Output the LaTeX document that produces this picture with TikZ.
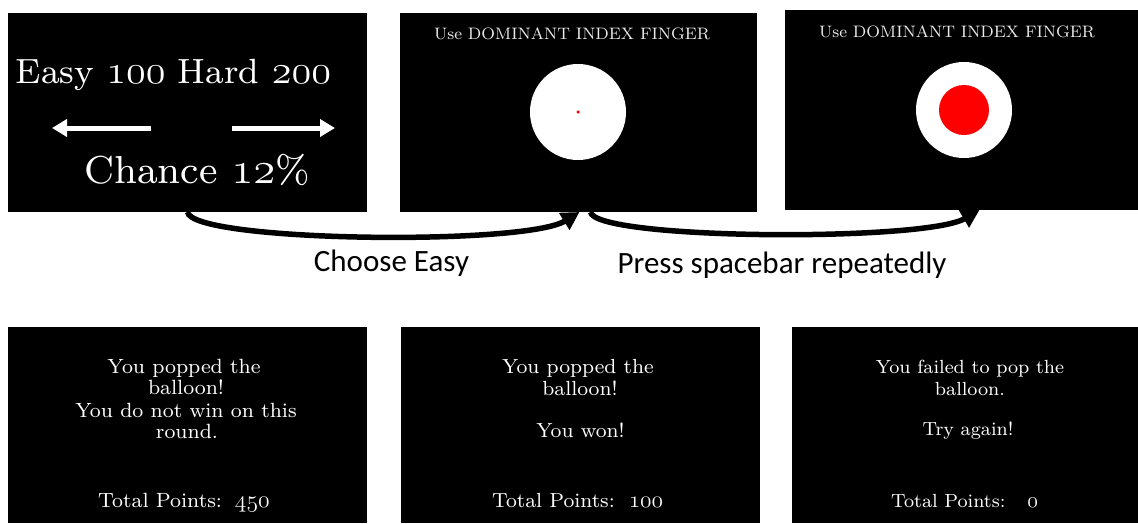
\RequirePackage{fix-cm}
\documentclass[tikz,border=0pt]{standalone}
\usepackage{graphicx}
\usepackage{fontspec}
\newfontfamily\calibri{Carlito}
\newfontfamily\geo{lmroman8-regular.otf}
\usetikzlibrary{arrows.meta}
\newcommand\osn[1]{\scalebox{1.15}{\usefont{OML}{cmm}{m}{it}#1}}
\newcommand\fs[1]{\fontsize{#1}{#1}\selectfont}
\begin{document}
\begin{tikzpicture}[x=1pt,y=-1pt,
  panel/.style={fill=black, draw=none, inner sep=0pt, outer sep=0pt},
  ptxt/.style={text=white, inner sep=0pt, anchor=base},
  lbl/.style={text=black, inner sep=0pt, anchor=base, font=\calibri\fs{31}},
  flow/.style={line width=5.5pt, black, -{Triangle[length=18pt,width=19pt]}},
  wharrow/.style={line width=5pt, white, -{Triangle[length=15pt,width=17pt]}}]
\useasboundingbox (0,0) rectangle (1138,523);
\fill[white] (0,0) rectangle (1138,523);

% top panels
\node[panel, minimum width=359pt, minimum height=199pt] (p1) at (187.5,112.5) {};
\node[panel, minimum width=357pt, minimum height=199pt] (p2) at (578.5,112.5) {};
\node[panel, minimum width=353pt, minimum height=200pt] (p3) at (961.5,110) {};

% panel 1 content
\node[ptxt, font=\geo\fs{35}] (t1a) at (173.5,83) {Easy \osn{100} Hard \osn{200}};
\node[ptxt, font=\geo\fs{39}] (t1b) at (197,183) {Chance \osn{12}\%};
\coordinate (la1) at (151,128);
\coordinate (la2) at (52,128);
\coordinate (ra1) at (232,128);
\coordinate (ra2) at (335,128);
\draw[wharrow] (la1) -- (la2);
\draw[wharrow] (ra1) -- (ra2);

% panel 2 content
\node[ptxt, font=\geo\fs{16.6}, text=white!92!black] (t2) at (572,39) {Use DOMINANT INDEX FINGER};
\node[circle, fill=white, minimum size=96pt, inner sep=0pt] (c2) at (578,112) {};
\node[circle, fill=red, minimum size=3.5pt, inner sep=0pt] (d2) at (c2.center) {};

% panel 3 content
\node[ptxt, font=\geo\fs{16.6}, text=white!92!black] (t3) at (957,37) {Use DOMINANT INDEX FINGER};
\node[circle, fill=white, minimum size=96pt, inner sep=0pt] (c3) at (964,110) {};
\node[circle, fill=red, minimum size=50pt, inner sep=0pt] (d3) at (c3.center) {};

% flow arrows
\coordinate (s1) at (p1.south);
\coordinate (e1) at ([xshift=1pt]p2.south);
\coordinate (s2) at ([xshift=12pt]p2.south);
\coordinate (e2) at ([xshift=18pt]p3.south);
\draw[flow] (s1) .. controls +(4,30) and +(-55,34) .. (e1);
\draw[flow] (s2) .. controls +(4,28) and +(-55,32) .. (e2);
\node[lbl] (l1) at (391.5,271) {Choose Easy};
\node[lbl] (l2) at (782,273) {Press spacebar repeatedly};

% bottom panels
\node[panel, minimum width=359pt, minimum height=196pt] (p4) at (187.5,425) {};
\node[panel, minimum width=359pt, minimum height=196pt] (p5) at (580.5,425) {};
\node[panel, minimum width=346pt, minimum height=196pt] (p6) at (965,425) {};

% panel 4 text
\begin{scope}[every node/.style={ptxt, font=\geo\fs{20.6}}]
\node (a1) at (184,373) {You popped the};
\node (a2) at (186,394) {balloon!};
\node (a3) at (186,417) {You do not win on this};
\node (a4) at (187,438) {round.};
\node[anchor=base west] (a5) at (98,507) {Total Points:\hspace*{13pt}\osn{450}};
\end{scope}

% panel 5 text
\begin{scope}[every node/.style={ptxt, font=\geo\fs{20.4}}]
\node (b1) at (578,373) {You popped the};
\node (b2) at (580,395) {balloon!};
\node (b3) at (580.5,437) {You won!};
\node[anchor=base west] (b4) at (492,507) {Total Points:\hspace*{14pt}\osn{100}};
\end{scope}

% panel 6 text
\begin{scope}[every node/.style={ptxt, font=\geo\fs{19}}]
\node (c1) at (970,373) {You failed to pop the};
\node (c4) at (970,395) {balloon.};
\node (c5) at (968,435) {Try again!};
\node[anchor=base west] (c6) at (891,507) {Total Points:\hspace*{22pt}\osn{0}};
\end{scope}
\end{tikzpicture}
\end{document}
